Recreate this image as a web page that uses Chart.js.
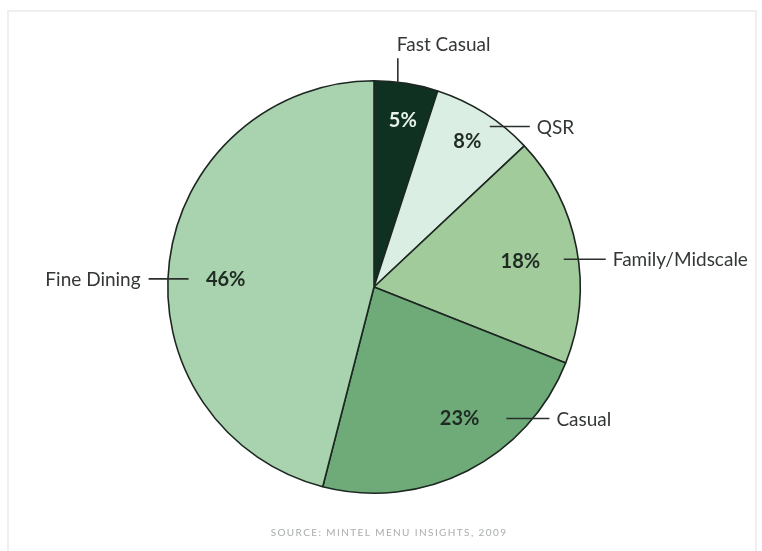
<!DOCTYPE html>
<html>
<head>
<meta charset="utf-8">
<script src="https://cdn.jsdelivr.net/npm/chart.js@4/dist/chart.umd.min.js"></script>
<style>
  html, body { margin: 0; padding: 0; background: #ffffff; }
  canvas { display: block; }
</style>
</head>
<body>
<canvas id="c" width="762" height="551"></canvas>
<script>
// Menu share by restaurant segment
const segments = ['Fast Casual', 'QSR', 'Family/Midscale', 'Casual', 'Fine Dining'];
const shares = [5, 8, 18, 23, 46];
const sourceNote = 'SOURCE: MINTEL MENU INSIGHTS, 2009';

const sliceColors = ['#0f3122', '#dbeee4', '#a2cb9c', '#6eab79', '#a9d3ae'];

// Callout placement, in degrees clockwise from 12 o'clock and fractions of the pie radius
const calloutLayout = [
  { pct: [9.8, 0.82],   pctColor: '#e9f1ec', from: [6.7, 0.99],   dir: 'up',    len: 26 },
  { pct: [32.6, 0.84],  pctColor: '#1f2a23', from: [35.8, 0.96],  dir: 'right', len: 40 },
  { pct: [80.3, 0.72],  pctColor: '#1f2a23', from: [81.7, 0.93],  dir: 'right', len: 42 },
  { pct: [146.9, 0.76], pctColor: '#1f2a23', from: [134.8, 0.905], dir: 'right', len: 43 },
  { pct: [272.7, 0.72], pctColor: '#1f2a23', from: [272.5, 0.90], dir: 'left',  len: 40 }
];

const LABEL_FONT = '19px Lato, "Open Sans", sans-serif';
const PCT_FONT = 'bold 20px Lato, "Open Sans", sans-serif';

const calloutPlugin = {
  id: 'callouts',
  beforeDraw(chart) {
    const ctx = chart.ctx;
    ctx.save();
    ctx.fillStyle = '#ffffff';
    ctx.fillRect(0, 0, chart.width, chart.height);
    ctx.strokeStyle = '#eef0ef';
    ctx.lineWidth = 2;
    ctx.strokeRect(8, 11, chart.width - 14, chart.height - 10);
    ctx.restore();
  },
  afterDatasetsDraw(chart) {
    const ctx = chart.ctx;
    const meta = chart.getDatasetMeta(0);
    const arc0 = meta.data[0];
    const cx = arc0.x, cy = arc0.y, R = arc0.outerRadius;
    const polar = (deg, f) => {
      const a = deg * Math.PI / 180;
      return [cx + Math.sin(a) * R * f, cy - Math.cos(a) * R * f];
    };
    const labels = chart.data.labels;
    const values = chart.data.datasets[0].data;

    ctx.save();
    values.forEach((v, i) => {
      const spec = calloutLayout[i];
      // percentage inside the slice
      const [px, py] = polar(spec.pct[0], spec.pct[1]);
      ctx.font = PCT_FONT;
      ctx.fillStyle = spec.pctColor;
      ctx.textAlign = 'center';
      ctx.textBaseline = 'middle';
      ctx.fillText(v + '%', px, py);

      // leader line and segment name
      const [sx, sy] = polar(spec.from[0], spec.from[1]);
      let ex = sx, ey = sy;
      if (spec.dir === 'up') ey = sy - spec.len;
      if (spec.dir === 'right') ex = sx + spec.len;
      if (spec.dir === 'left') ex = sx - spec.len;
      ctx.strokeStyle = '#2b302d';
      ctx.lineWidth = 1.6;
      ctx.beginPath();
      ctx.moveTo(sx, sy);
      ctx.lineTo(ex, ey);
      ctx.stroke();

      ctx.font = LABEL_FONT;
      ctx.fillStyle = '#333735';
      ctx.textBaseline = 'middle';
      if (spec.dir === 'up') {
        ctx.textAlign = 'left';
        ctx.fillText(labels[i], ex - 1, ey - 13);
      } else if (spec.dir === 'right') {
        ctx.textAlign = 'left';
        ctx.fillText(labels[i], ex + 7, ey + 1);
      } else {
        ctx.textAlign = 'right';
        ctx.fillText(labels[i], ex - 8, ey + 1);
      }
    });

    // source line
    ctx.font = '10px Lato, "Open Sans", sans-serif';
    ctx.letterSpacing = '1.4px';
    ctx.fillStyle = '#a9adab';
    ctx.textAlign = 'center';
    ctx.textBaseline = 'middle';
    ctx.fillText(sourceNote, 389, 533);
    ctx.restore();
  }
};

new Chart(document.getElementById('c'), {
  type: 'pie',
  data: {
    labels: segments,
    datasets: [{
      data: shares,
      backgroundColor: sliceColors,
      borderColor: '#1d2721',
      borderWidth: 1.6,
      hoverOffset: 0
    }]
  },
  options: {
    responsive: false,
    devicePixelRatio: 1,
    animation: false,
    layout: { padding: { left: 167, right: 181, top: 80, bottom: 57 } },
    plugins: {
      legend: { display: false },
      tooltip: { enabled: false }
    }
  },
  plugins: [calloutPlugin]
});
</script>
</body>
</html>
